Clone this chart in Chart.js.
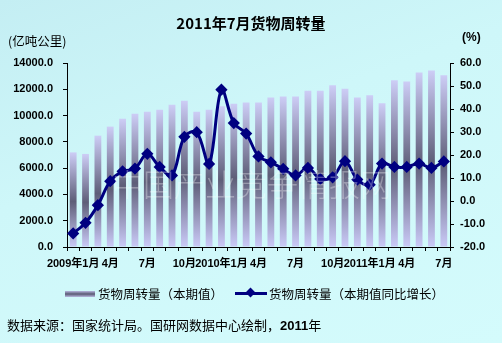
<!DOCTYPE html>
<html>
<head>
<meta charset="utf-8">
<script src="https://cdn.jsdelivr.net/npm/chart.js@4.4.1/dist/chart.umd.min.js"></script>
<style>
  html, body { margin:0; padding:0; }
  body { width:502px; height:343px; overflow:hidden; position:relative;
    background: linear-gradient(160deg, #c4eef3 0%, #cef7f9 40%, #d4fbfc 100%);
    font-family: "Noto Sans CJK SC", "Liberation Sans", sans-serif; color:#000; }
  #c { position:absolute; left:0; top:0; }
  .t { position:absolute; white-space:nowrap; }
  #title { left:0; width:502px; top:12px; text-align:center; font-size:15px; font-weight:bold; }
  #ul { left:8px; top:31px; font-size:12.5px; }
  #ur { left:462px; top:30px; font-size:12px; font-weight:bold; font-family:"Liberation Sans", sans-serif; }
  #wm { left:112px; top:160px; font-size:31px; color:rgba(255,255,255,0.32); font-weight:300; }
  #legend { left:65px; top:284px; font-size:12.5px; display:flex; align-items:center; }
  .sym-bar { width:30px; height:6px; background:linear-gradient(to bottom, #b8b8e0, #5a5a74, #b8b8e0); margin-right:3px; }
  .sym-line { width:32px; height:3px; background:#000080; position:relative; margin-right:2px; margin-left:12px; }
  .sym-line i { position:absolute; left:12px; top:-3px; width:7px; height:7px; background:#000080; transform:rotate(45deg); }
  #foot { left:7px; top:315px; font-size:13px; }
  #foot b { font-family:"Liberation Sans", sans-serif; font-weight:bold; }
</style>
</head>
<body>
<canvas id="c" width="502" height="343"></canvas>
<div class="t" id="title">2011年7月货物周转量</div>
<div class="t" id="ul">(亿吨公里)</div>
<div class="t" id="ur">(%)</div>
<div class="t" id="wm">中国产业竞争情报网</div>
<div class="t" id="legend"><span class="sym-bar"></span><span>货物周转量（本期值）</span><span class="sym-line"><i></i></span><span>货物周转量（本期值同比增长）</span></div>
<div class="t" id="foot">数据来源：国家统计局。国研网数据中心绘制，<b>2011</b>年</div>
<script>
const categories = ['2009年1月','','','4月','','','7月','','','10月','','',
  '2010年1月','','','4月','','','7月','','','10月','','',
  '2011年1月','','','4月','','','7月'];
const turnover = [7200, 7080, 8470, 9160, 9760, 10140, 10300, 10450, 10830, 11130, 10300, 10450,
  10700, 10900, 11000, 11000, 11380, 11460, 11460, 11890, 11890, 12300, 12040, 11380,
  11540, 10930, 12680, 12600, 13280, 13430, 13070];
const growth = [-14.1, -9.5, -1.8, 8.6, 12.9, 14.1, 20.5, 14.8, 11.1, 27.9, 29.9, 16.1,
  48.4, 33.9, 29.3, 19.4, 16.8, 14.0, 11.1, 14.4, 9.6, 10.3, 17.3, 9.3,
  7.1, 16.3, 14.8, 14.8, 16.3, 14.4, 17.2];
const leftTicks = [0, 14000, 2000];
const rightTicks = [-20, 60, 10];

const tickFont = { family: '"Liberation Sans", "Noto Sans CJK SC", sans-serif', size: 11, weight: 'bold' };

function barFill(ctx) {
  const chart = ctx.chart;
  if (!chart.chartArea || ctx.type !== 'data') return '#9898c8';
  const y = chart.scales.y;
  const top = y.getPixelForValue(ctx.raw);
  const bot = y.getPixelForValue(0);
  const g = chart.ctx.createLinearGradient(0, top, 0, bot);
  g.addColorStop(0, '#cdcdf6');
  g.addColorStop(0.52, '#5e5e78');
  g.addColorStop(1, '#cacaf7');
  return g;
}

new Chart(document.getElementById('c'), {
  data: {
    labels: categories,
    datasets: [
      { type: 'line', label: '货物周转量（本期值同比增长）', data: growth, yAxisID: 'y2',
        borderColor: '#000080', backgroundColor: '#000080', borderWidth: 3, tension: 0.35,
        pointStyle: 'rectRot', pointRadius: 4, pointBackgroundColor: '#000080', pointBorderColor: '#000080', order: 0 },
      { type: 'bar', label: '货物周转量（本期值）', data: turnover, yAxisID: 'y',
        backgroundColor: barFill, borderWidth: 0, barPercentage: 0.55, categoryPercentage: 1.0, order: 1 }
    ]
  },
  options: {
    responsive: false, devicePixelRatio: 1, animation: false,
    layout: { padding: { top: 63, left: 0, right: 0, bottom: 0 } },
    plugins: { legend: { display: false }, tooltip: { enabled: false }, title: { display: false } },
    scales: {
      x: {
        afterFit: s => { s.height = 96; },
        grid: { display: true, drawOnChartArea: false, offset: true, color: '#000', tickLength: 4, tickColor: '#000' },
        border: { display: true, color: '#000', width: 1 },
        ticks: { autoSkip: false, maxRotation: 0, minRotation: 0, color: '#000', font: tickFont, padding: 6 }
      },
      y: {
        position: 'left', min: leftTicks[0], max: leftTicks[1],
        afterFit: s => { s.width = 67; },
        grid: { drawOnChartArea: false, color: '#000', tickLength: 4 },
        border: { display: true, color: '#000', width: 1 },
        ticks: { stepSize: leftTicks[2], color: '#000', font: tickFont, padding: 10,
          callback: v => Number(v).toFixed(1) }
      },
      y2: {
        position: 'right', min: rightTicks[0], max: rightTicks[1],
        afterFit: s => { s.width = 52; },
        grid: { drawOnChartArea: false, color: '#000', tickLength: 4 },
        border: { display: true, color: '#000', width: 1 },
        ticks: { stepSize: rightTicks[2], color: '#000', font: tickFont, padding: 6,
          callback: v => Number(v).toFixed(1) }
      }
    }
  }
});
</script>
</body>
</html>
